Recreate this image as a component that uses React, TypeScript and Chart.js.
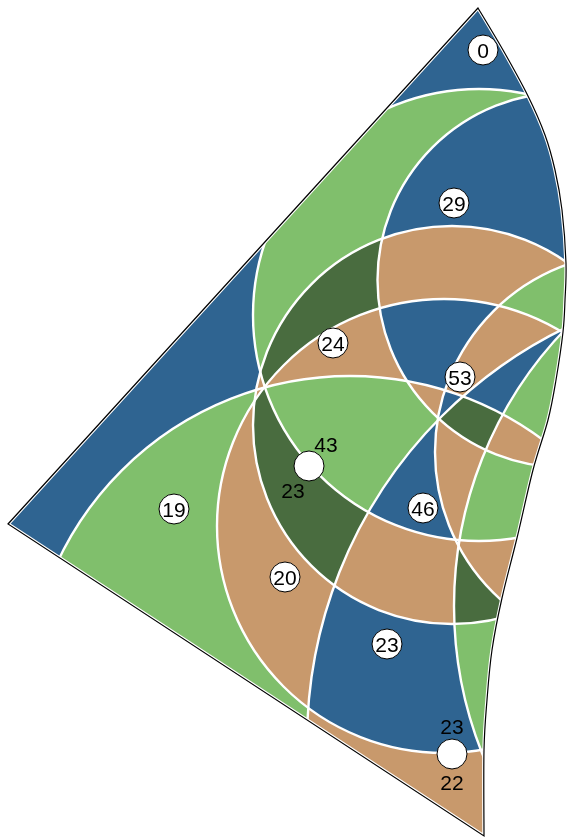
import { useEffect, useRef } from 'react';
import { Chart, registerables } from 'chart.js';

Chart.register(...registerables);

// ---- circles of the arrangement (data units = picture units) ----
const circleX = [479, 565, 452, 444, 350, 634, 768, 854];
const circleY = [315, 280, 425, 526, 699, 452, 742, 606];
const circleR = [226, 187.5, 199, 227, 323, 199, 461, 400];

// ---- outline of the map ----
const straightX = [478, 8, 484];
const straightY = [8, 524, 836];
const curvedX = [484, 484, 487, 492, 502, 517, 533, 548, 556, 563, 565, 566, 562, 555, 545, 528, 503, 478];
const curvedY = [836, 750, 700, 650, 598, 538, 470, 420, 380, 332, 300, 263, 210, 170, 135, 96, 50, 8];

// ---- cell colours (one sample point per cell) ----
const seedX = [483, 330, 470, 446, 545, 330, 100, 333, 420, 515, 350, 290, 285, 175, 425, 410, 386, 450, 475, 470, 510, 505, 455, 428, 452, 472, 515, 548, 522, 300];
const seedY = [30, 200, 160, 265, 290, 300, 450, 343, 340, 350, 420, 480, 576, 510, 505, 560, 645, 790, 690, 590, 565, 500, 470, 402, 402, 420, 385, 385, 442, 712];
const seedColor = ['blue', 'green', 'blue', 'tan', 'green', 'dark', 'blue', 'tan', 'blue', 'tan', 'green', 'dark', 'tan', 'green', 'blue', 'tan', 'blue', 'tan', 'green', 'dark', 'tan', 'green', 'tan', 'tan', 'blue', 'dark', 'blue', 'green', 'tan', 'green'];

// ---- labels ----
const labelText = ['0', '29', '24', '53', '19', '20', '23', '46'];
const labelX = [483, 454, 333, 460, 174, 285, 387, 423];
const labelY = [50, 203, 343, 377, 509, 577, 644, 508];

const dotX = [309, 452];
const dotY = [466, 754];
const dotTopText = ['43', '23'];
const dotTopX = [326, 452];
const dotTopY = [444, 726];
const dotBottomText = ['23', '22'];
const dotBottomX = [293, 452];
const dotBottomY = [490, 782];

const palette: Record<string, [number, number, number]> = {
  blue: [47, 100, 145],
  green: [128, 191, 108],
  tan: [200, 153, 108],
  dark: [73, 108, 63],
};

function outlinePath(xs: any, ys: any): Path2D {
  const p = new Path2D();
  const px = (v: number) => xs.getPixelForValue(v);
  const py = (v: number) => ys.getPixelForValue(v);
  p.moveTo(px(straightX[0]), py(straightY[0]));
  for (let i = 1; i < straightX.length; i++) p.lineTo(px(straightX[i]), py(straightY[i]));
  const pts = curvedX.map((x, i) => [px(x), py(curvedY[i])]);
  const n = pts.length;
  for (let i = 0; i < n - 1; i++) {
    const p0 = pts[Math.max(0, i - 1)];
    const p1 = pts[i];
    const p2 = pts[i + 1];
    const p3 = pts[Math.min(n - 1, i + 2)];
    const c1x = p1[0] + (p2[0] - p0[0]) / 6;
    const c1y = p1[1] + (p2[1] - p0[1]) / 6;
    const c2x = p2[0] - (p3[0] - p1[0]) / 6;
    const c2y = p2[1] - (p3[1] - p1[1]) / 6;
    p.bezierCurveTo(c1x, c1y, c2x, c2y, p2[0], p2[1]);
  }
  p.closePath();
  return p;
}

const mapPlugin = {
  id: 'mapCells',
  beforeDatasetsDraw(chart: any) {
    const { ctx } = chart;
    const xs = chart.scales.x;
    const ys = chart.scales.y;
    const W = chart.width;
    const H = chart.height;
    const cpx = circleX.map((v) => xs.getPixelForValue(v));
    const cpy = circleY.map((v) => ys.getPixelForValue(v));
    const rpx = circleR.map((r, i) => Math.abs(xs.getPixelForValue(circleX[i] + r) - cpx[i]));
    const r2 = rpx.map((r) => r * r);
    const maskAt = (x: number, y: number) => {
      let m = 0;
      for (let i = 0; i < cpx.length; i++) {
        const dx = x - cpx[i];
        const dy = y - cpy[i];
        if (dx * dx + dy * dy < r2[i]) m |= 1 << i;
      }
      return m;
    };
    const spx = seedX.map((v) => xs.getPixelForValue(v));
    const spy = seedY.map((v) => ys.getPixelForValue(v));
    const lookup = new Map<number, number>();
    spx.forEach((x, i) => {
      const m = maskAt(x, spy[i]);
      if (!lookup.has(m)) lookup.set(m, i);
    });
    const off = document.createElement('canvas');
    off.width = W;
    off.height = H;
    const octx = off.getContext('2d')!;
    const img = octx.createImageData(W, H);
    const d = img.data;
    for (let y = 0; y < H; y++) {
      for (let x = 0; x < W; x++) {
        const m = maskAt(x + 0.5, y + 0.5);
        let si = lookup.get(m);
        if (si === undefined) {
          let best = 0;
          let bd = Infinity;
          for (let k = 0; k < spx.length; k++) {
            const dd = (spx[k] - x) ** 2 + (spy[k] - y) ** 2;
            if (dd < bd) {
              bd = dd;
              best = k;
            }
          }
          si = best;
          lookup.set(m, si);
        }
        const c = palette[seedColor[si]];
        const o = (y * W + x) * 4;
        d[o] = c[0];
        d[o + 1] = c[1];
        d[o + 2] = c[2];
        d[o + 3] = 255;
      }
    }
    octx.putImageData(img, 0, 0);
    const path = outlinePath(xs, ys);
    ctx.save();
    ctx.clip(path);
    ctx.drawImage(off, 0, 0);
    ctx.strokeStyle = '#ffffff';
    ctx.lineWidth = 2.4;
    for (let i = 0; i < cpx.length; i++) {
      ctx.beginPath();
      ctx.arc(cpx[i], cpy[i], rpx[i], 0, Math.PI * 2);
      ctx.stroke();
    }
    ctx.restore();
    ctx.save();
    ctx.strokeStyle = '#ffffff';
    ctx.lineWidth = 3.4;
    ctx.stroke(path);
    ctx.strokeStyle = '#000000';
    ctx.lineWidth = 1.2;
    ctx.stroke(path);
    ctx.restore();
  },
  afterDatasetsDraw(chart: any) {
    const { ctx } = chart;
    const xs = chart.scales.x;
    const ys = chart.scales.y;
    ctx.save();
    ctx.font = '21px "Liberation Sans", Arial, sans-serif';
    ctx.fillStyle = '#000';
    ctx.textAlign = 'center';
    ctx.textBaseline = 'alphabetic';
    const put = (t: string, x: number, y: number) =>
      ctx.fillText(t, xs.getPixelForValue(x), ys.getPixelForValue(y) + 7.5);
    labelText.forEach((t, i) => put(t, labelX[i], labelY[i]));
    dotTopText.forEach((t, i) => put(t, dotTopX[i], dotTopY[i]));
    dotBottomText.forEach((t, i) => put(t, dotBottomX[i], dotBottomY[i]));
    ctx.restore();
  },
};

export default function App() {
  const ref = useRef<HTMLCanvasElement | null>(null);
  useEffect(() => {
    document.body.style.margin = '0';
    const canvas = ref.current!;
    const chart = new Chart(canvas, {
      type: 'scatter',
      data: {
        datasets: [
          {
            data: labelX.map((x, i) => ({ x, y: labelY[i] })),
            pointRadius: 15,
            pointHoverRadius: 15,
            pointBackgroundColor: '#ffffff',
            pointBorderColor: '#000000',
            pointBorderWidth: 1,
          },
          {
            data: dotX.map((x, i) => ({ x, y: dotY[i] })),
            pointRadius: 15,
            pointHoverRadius: 15,
            pointBackgroundColor: '#ffffff',
            pointBorderColor: '#000000',
            pointBorderWidth: 1,
          },
        ],
      },
      options: {
        animation: false,
        responsive: false,
        events: [],
        layout: { padding: 0, autoPadding: false },
        plugins: { legend: { display: false }, tooltip: { enabled: false } },
        scales: {
          x: { type: 'linear', min: 0, max: 569, display: false },
          y: { type: 'linear', min: 0, max: 839, reverse: true, display: false },
        },
      },
      plugins: [mapPlugin],
    } as any);
    return () => chart.destroy();
  }, []);
  return (
    <div style={{ width: 569, height: 839 }}>
      <canvas ref={ref} width={569} height={839} style={{ display: 'block' }} />
    </div>
  );
}
